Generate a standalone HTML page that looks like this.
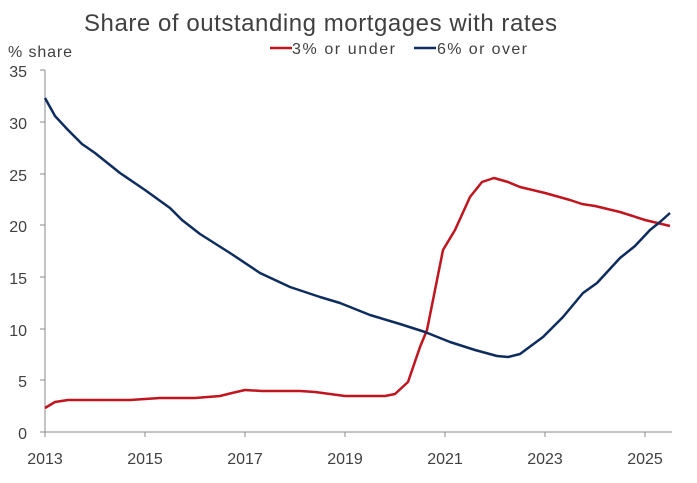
<!DOCTYPE html><html><head><style>body{margin:0;background:#fff}svg{display:block;font-family:"Liberation Sans",sans-serif}</style></head><body>
<svg width="697" height="483" viewBox="0 0 697 483">
<text x="84" y="31" font-size="24" fill="#404040" textLength="473" lengthAdjust="spacing">Share of outstanding mortgages with rates</text>
<text x="8" y="57" font-size="16" fill="#404040" textLength="64" lengthAdjust="spacing">% share</text>
<line x1="270" y1="48" x2="292" y2="48" stroke="#c0151f" stroke-width="2.5"/>
<text x="292" y="54" font-size="16" fill="#404040" textLength="103" lengthAdjust="spacing">3% or under</text>
<line x1="414" y1="48" x2="436" y2="48" stroke="#0e2d5e" stroke-width="2.5"/>
<text x="437" y="54" font-size="16" fill="#404040" textLength="90" lengthAdjust="spacing">6% or over</text>
<g stroke="#888" stroke-width="1" fill="none">
<line x1="45" y1="70" x2="45" y2="432"/><line x1="40" y1="432" x2="672" y2="432"/>
<path d="M40 70H45M40 122H45M40 174H45M40 225H45M40 277H45M40 329H45M40 380H45M45 432V437M145 432V437M245 432V437M345 432V437M445 432V437M545 432V437M645 432V437"/>
</g>
<g font-size="16" fill="#404040" text-anchor="end">
<text x="27" y="77">35</text><text x="27" y="129">30</text><text x="27" y="181">25</text><text x="27" y="232">20</text><text x="27" y="284">15</text><text x="27" y="336">10</text><text x="27" y="387">5</text><text x="27" y="439">0</text>
</g>
<g font-size="16" fill="#404040" text-anchor="middle">
<text x="45" y="464">2013</text><text x="145" y="464">2015</text><text x="245" y="464">2017</text><text x="345" y="464">2019</text><text x="445" y="464">2021</text><text x="545" y="464">2023</text><text x="645" y="464">2025</text>
</g>
<polyline fill="none" stroke="#c0151f" stroke-width="2.5" stroke-linejoin="round" points="45,408 55,402 68,400 100,400 130,400 145,399 160,398 195,398 220,396 232,393 245,390 262,391 300,391 315,392 345,396 385,396 395,394 408,382 420,347 427,330 435,290 443,250 455,230 470,197 482,182 494,178 508,182 520,187 545,193 570,200 582,204 595,206 620,212 645,220 670,226"/>
<polyline fill="none" stroke="#0e2d5e" stroke-width="2.5" stroke-linejoin="round" points="45,98 55,116 68,130 82,144 95,153 120,173 145,190 170,208 182,220 200,234 230,253 260,273 290,287 320,297 340,303 370,315 400,324 425,332 450,342 475,350 497,356 508,357 520,354 543,337 563,317 583,293 597,283 620,258 635,246 650,230 660,222 670,213"/>
</svg></body></html>
